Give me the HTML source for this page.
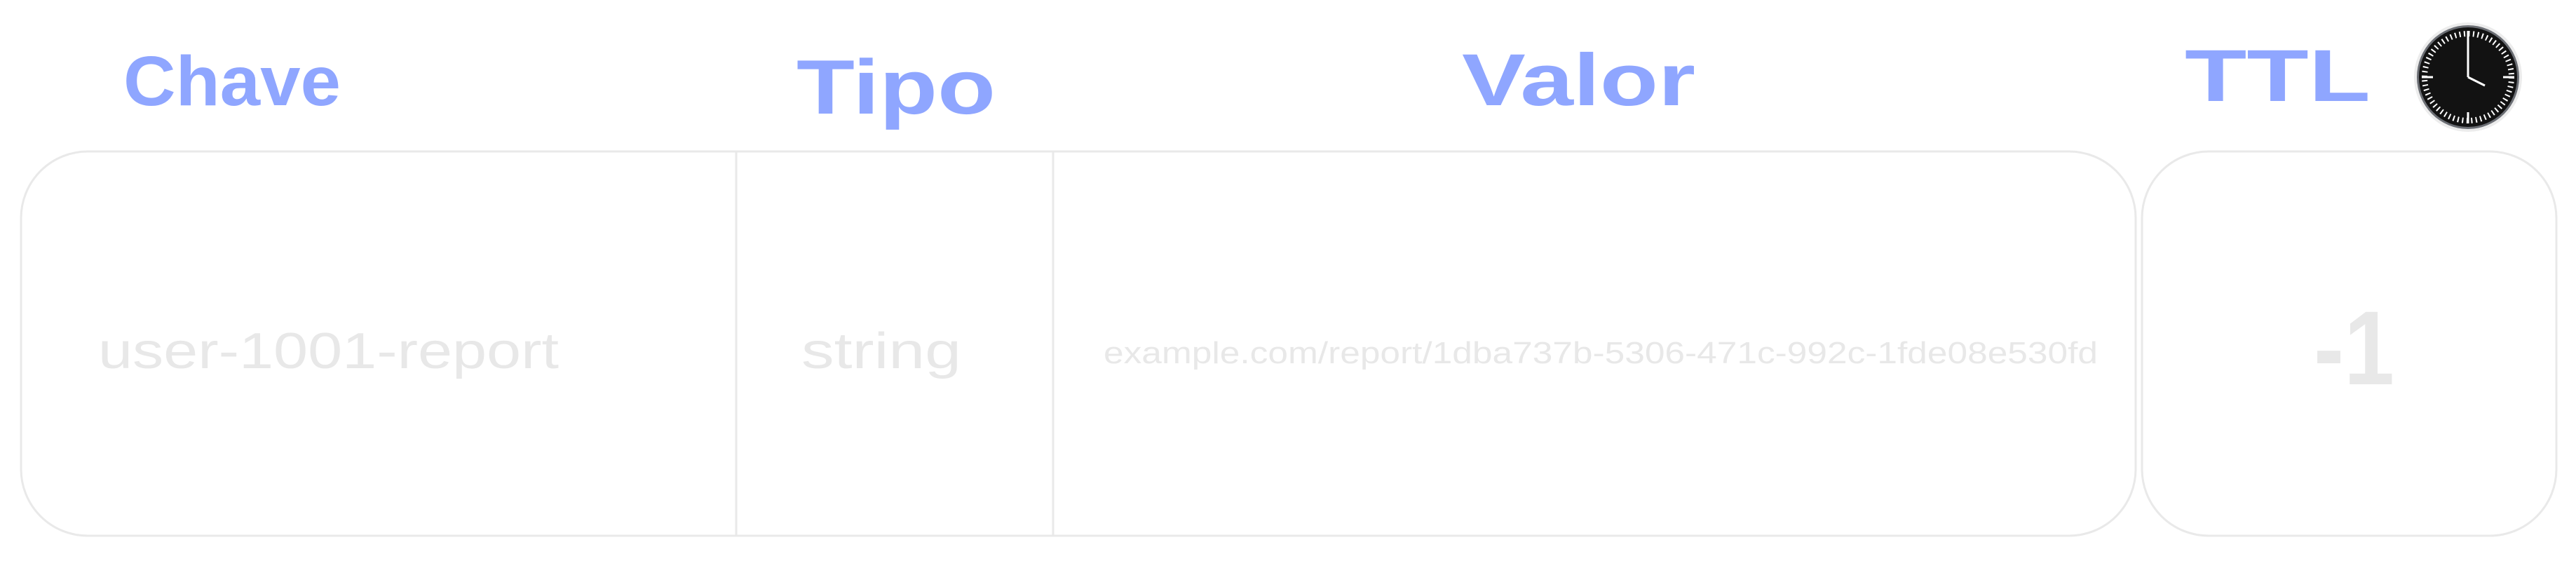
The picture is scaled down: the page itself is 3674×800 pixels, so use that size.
<!DOCTYPE html>
<html><head><meta charset="utf-8"><style>html,body{margin:0;padding:0;background:#fff;width:3674px;height:800px;overflow:hidden}</style></head>
<body>
<svg width="3674" height="800" viewBox="0 0 3674 800" xmlns="http://www.w3.org/2000/svg">
<g font-family="Liberation Sans, sans-serif" fill="#8fa6ff" font-weight="bold">
<text x="176" y="150" font-size="100" textLength="310" lengthAdjust="spacingAndGlyphs">Chave</text>
<text x="1136" y="162" font-size="110" textLength="284" lengthAdjust="spacingAndGlyphs">Tipo</text>
<text x="2085" y="150" font-size="105" textLength="333" lengthAdjust="spacingAndGlyphs">Valor</text>
<text x="3116" y="144" font-size="105" textLength="265" lengthAdjust="spacingAndGlyphs">TTL</text>
</g>
<g fill="none" stroke="#e9e9e9" stroke-width="3">
<rect x="30" y="216" width="3016" height="548" rx="95"/>
<line x1="1050" y1="216" x2="1050" y2="764"/>
<line x1="1502" y1="216" x2="1502" y2="764"/>
<rect x="3055" y="216" width="591" height="548" rx="95"/>
</g>
<g font-family="Liberation Sans, sans-serif" fill="#e8e8e8">
<text x="140" y="525" font-size="72" textLength="657" lengthAdjust="spacingAndGlyphs">user-1001-report</text>
<text x="1143" y="525" font-size="72" textLength="228" lengthAdjust="spacingAndGlyphs">string</text>
<text x="1574" y="518" font-size="44" textLength="1418" lengthAdjust="spacingAndGlyphs">example.com/report/1dba737b-5306-471c-992c-1fde08e530fd</text>
<text x="3300" y="548" font-size="150" font-weight="bold" textLength="115" lengthAdjust="spacingAndGlyphs">-1</text>
</g>
<g transform="translate(3520,110)">
<ellipse rx="77" ry="78" fill="#ececec"/>
<ellipse rx="73" ry="74" fill="#6b6e74"/>
<ellipse rx="70" ry="71" fill="#121212"/>
<circle r="62" fill="none" stroke="#fff" stroke-width="8" stroke-dasharray="2 4.5"/>
<g stroke="#fff" stroke-width="3">
<line x1="0" y1="-66" x2="0" y2="-50"/><line x1="0" y1="66" x2="0" y2="50"/>
<line x1="-66" y1="0" x2="-50" y2="0"/><line x1="66" y1="0" x2="50" y2="0"/>
</g>
<line x1="0" y1="0" x2="0" y2="-50" stroke="#fff" stroke-width="3"/>
<line x1="0" y1="0" x2="24" y2="12" stroke="#fff" stroke-width="3"/>
</g>
</svg>
</body></html>
